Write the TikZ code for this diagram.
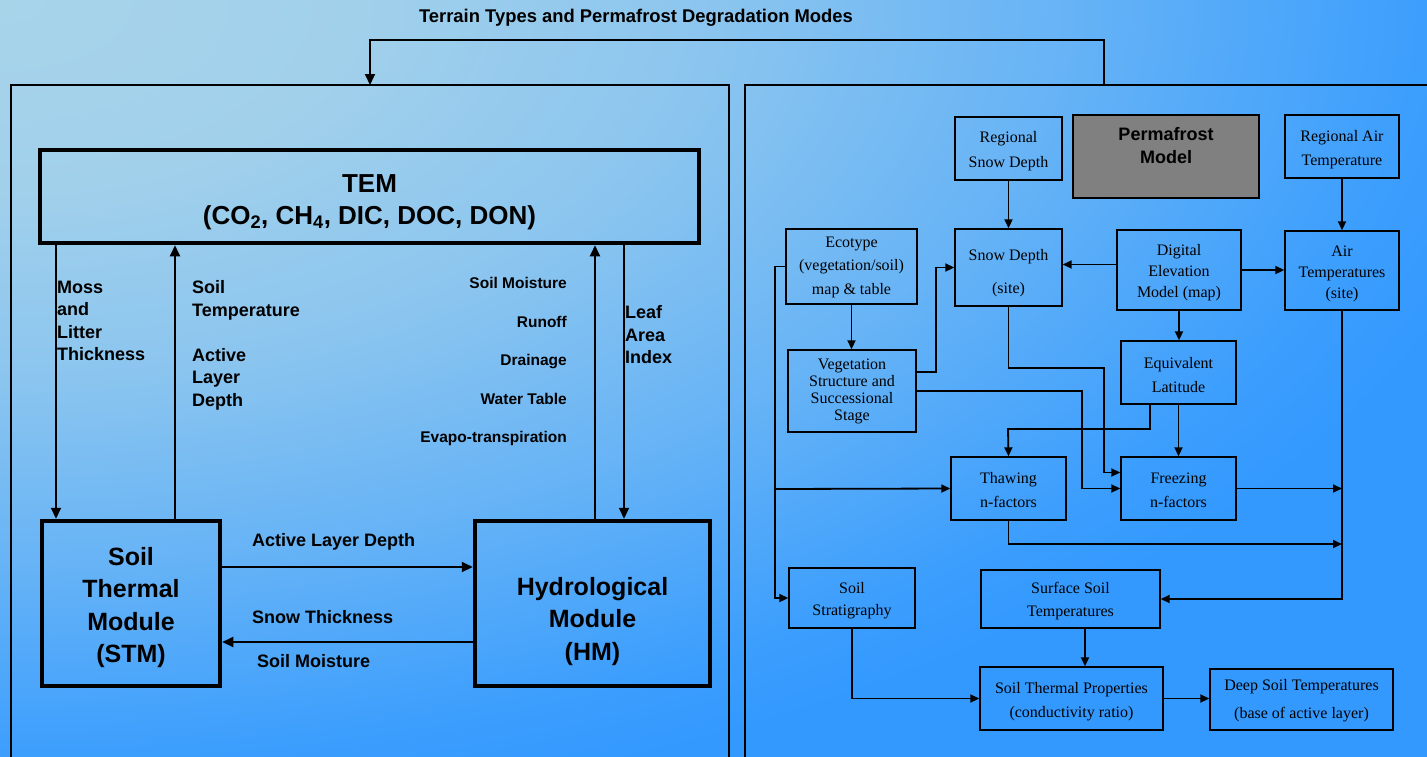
\documentclass[tikz,border=0pt]{standalone}
\usepackage{fontspec}
\setmainfont{Liberation Serif}
\newfontfamily\arialf{Liberation Sans}
\usetikzlibrary{arrows.meta}
\definecolor{bgA}{RGB}{168,212,234}
\definecolor{bgB}{RGB}{161,208,235}
\definecolor{bgC}{RGB}{139,197,239}
\definecolor{bgD}{RGB}{102,179,246}
\definecolor{bgE}{RGB}{60,158,253}
\definecolor{bgF}{RGB}{51,153,255}
\definecolor{pmgray}{RGB}{128,128,128}
\pgfdeclareradialshading{bgshade}{\pgfpoint{0bp}{0bp}}{color(0bp)=(bgA); color(4.17bp)=(bgB); color(8.33bp)=(bgC); color(12.5bp)=(bgD); color(16.67bp)=(bgE); color(18.33bp)=(bgF); color(25bp)=(bgF); color(50bp)=(bgF)}
\newcommand\lift[1]{\rule{0pt}{#1pt}}
\begin{document}
\begin{tikzpicture}[x=1pt,y=-1pt,
  panel/.style={draw,line width=2pt},
  tbox/.style={draw,line width=4.5pt,align=center,inner sep=0pt,font=\arialf\bfseries\fontsize{25}{32.3}\selectfont},
  rbox/.style={draw,line width=1.4pt,align=center,inner sep=0pt},
  arr/.style={line width=2pt,-{Triangle[length=11pt,width=10pt]}},
  rarr/.style={line width=1.8pt,-{Triangle[length=9pt,width=8pt]}},
  lab/.style={inner sep=0pt,font=\arialf\bfseries\fontsize{18}{22.5}\selectfont},
  slab/.style={inner sep=0pt,font=\arialf\bfseries\fontsize{15.5}{38.5}\selectfont}]
\useasboundingbox (0,0) rectangle (1427,756);
\begin{scope}
\clip (0,0) rectangle (1427,756);
\begin{scope}[transform canvas={xscale=1.8876}]
\shade[shading=bgshade] (0,0) circle (1134pt);
\end{scope}
\end{scope}

% title and panels
\node[inner sep=0pt,font=\arialf\bfseries\fontsize{18.4}{22}\selectfont] (title) at (636,18) {Terrain Types and Permafrost Degradation Modes};
\draw[panel] (11,790) -- (11,85) -- (729,85) -- (729,790);
\draw[panel] (745,790) -- (745,85) -- (1440,85);
\coordinate (lp) at (370,85);
\coordinate (rp) at (1104,85);
\draw[arr] (rp) -- (1104,40) -| (lp);

% left panel
\node[tbox, minimum width=659pt, minimum height=93pt, font=\arialf\bfseries\fontsize{26}{32}\selectfont] (tem) at (369.5,196.5) {\lift{29}TEM\\(CO\textsubscript{2}, CH\textsubscript{4}, DIC, DOC, DON)};
\node[tbox, minimum width=178pt, minimum height=165pt] (stm) at (131,603.5) {\lift{26}Soil\\Thermal\\Module\\(STM)};
\node[tbox, minimum width=235pt, minimum height=165pt] (hm) at (592.5,603.5) {\lift{54}Hydrological\\Module\\(HM)};

\coordinate (m1) at (56,400);
\coordinate (m2) at (175,400);
\coordinate (m3) at (595,400);
\coordinate (m4) at (624,400);
\draw[arr] (tem.south -| m1) -- (stm.north -| m1);
\draw[arr] (stm.north -| m2) -- (tem.south -| m2);
\draw[arr] (hm.north -| m3) -- (tem.south -| m3);
\draw[arr] (tem.south -| m4) -- (hm.north -| m4);
\draw[arr] ([yshift=36.5pt]stm.east) -- ([yshift=36.5pt]hm.west);
\draw[arr] ([yshift=-38.5pt]hm.west) -- ([yshift=-38.5pt]stm.east);

\node[lab, anchor=north west, align=left] (moss) at (57,280.5) {Moss\\and\\Litter\\Thickness};
\node[lab, anchor=north west, align=left] (soilt) at (192,280.5) {Soil\\Temperature\\[22.5pt]Active\\Layer\\Depth};
\node[slab, anchor=north east, align=right] (hyd) at (567,277.5) {Soil Moisture\\Runoff\\Drainage\\Water Table\\Evapo-transpiration};
\node[lab, anchor=north west, align=left] (lai) at (625,305.5) {Leaf\\Area\\Index};
\node[lab, anchor=west] (ald) at (252,542) {Active Layer Depth};
\node[lab, anchor=west] (snt) at (252,617) {Snow Thickness};
\node[lab, anchor=west] (smo) at (257,661) {Soil Moisture};

% right panel
\node[rbox, minimum width=107pt, minimum height=63pt, font=\fontsize{16}{25}\selectfont] (rsd) at (1008.5,148.5) {\lift{17}Regional\\Snow Depth};
\node[draw, line width=2.5pt, fill=pmgray, minimum width=186pt, minimum height=83pt, inner sep=0pt, align=center, font=\arialf\bfseries\fontsize{18}{23}\selectfont] (pm) at (1166,156.5) {Permafrost\\Model\\\mbox{}};
\node[rbox, minimum width=114pt, minimum height=63pt, font=\fontsize{16}{24}\selectfont] (rat) at (1342,146.5) {\lift{17}Regional Air\\Temperature};
\node[rbox, minimum width=131pt, minimum height=75pt, font=\fontsize{16}{23.5}\selectfont] (eco) at (851.5,266.5) {\lift{12}Ecotype\\(vegetation/soil)\\map \& table};
\node[rbox, minimum width=107pt, minimum height=77pt, font=\fontsize{16}{33}\selectfont] (sd) at (1008.5,267.5) {\lift{23}Snow Depth\\(site)};
\node[rbox, minimum width=124pt, minimum height=80pt, font=\fontsize{16}{21}\selectfont] (dem) at (1179,270) {\lift{17}Digital\\Elevation\\Model (map)};
\node[rbox, minimum width=114pt, minimum height=79pt, font=\fontsize{16}{21}\selectfont] (at) at (1342,270.5) {\lift{17}Air\\Temperatures\\(site)};
\node[rbox, minimum width=128pt, minimum height=82pt, font=\fontsize{16}{17}\selectfont] (veg) at (852,391) {Vegetation\\Structure and\\Successional\\Stage};
\node[rbox, minimum width=115pt, minimum height=63pt, font=\fontsize{16}{24}\selectfont] (eql) at (1178.5,372.5) {\lift{16}Equivalent\\Latitude};
\node[rbox, minimum width=115pt, minimum height=63pt, font=\fontsize{16}{24}\selectfont] (thaw) at (1008.5,488.5) {\lift{15}Thawing\\n-factors};
\node[rbox, minimum width=115pt, minimum height=63pt, font=\fontsize{16}{24}\selectfont] (frz) at (1178.5,488.5) {\lift{15}Freezing\\n-factors};
\node[rbox, minimum width=126pt, minimum height=60pt, font=\fontsize{16}{22}\selectfont] (strat) at (852,598) {\lift{17}Soil\\Stratigraphy};
\node[rbox, minimum width=179pt, minimum height=58pt, font=\fontsize{16}{23}\selectfont] (sst) at (1070.5,599) {\lift{15}Surface Soil\\Temperatures};
\node[rbox, minimum width=183pt, minimum height=63pt, font=\fontsize{16}{24}\selectfont] (stp) at (1071.5,698.5) {\lift{17}Soil Thermal Properties\\(conductivity ratio)};
\node[rbox, minimum width=183pt, minimum height=61pt, font=\fontsize{16}{28}\selectfont] (dst) at (1301.5,699.5) {\lift{13}Deep Soil Temperatures\\(base of active layer)};

\coordinate (lx) at (775,489);
\coordinate (fx) at (1082,391);
\coordinate (sj) at (1104,368);
\coordinate (ej) at (1008,429);
\coordinate (tj) at (1342,544);

\draw[rarr] (rsd.south) -- (sd.north);
\draw[rarr] (rat.south) -- (at.north);
\draw[rarr] ([yshift=3pt]dem.west |- sd.east) -- ([yshift=3pt]sd.east);
\draw[rarr] (dem.east) -- (dem.east -| at.west);
\draw[rarr] (dem.south) -- (dem.south |- eql.north);
\draw[rarr] (eco.south) -- (eco.south |- veg.north);
\draw[rarr] (eco.west) -| (lx) |- (strat.west);
\draw[rarr] (lx) -- (thaw.west);
\draw[rarr] ([yshift=19pt]veg.east) -- ++(19,0) |- (sd.west);
\draw[rarr] (veg.east) -- (fx) |- (frz.west);
\draw[rarr] (sd.south) |- (sj) |- ([yshift=16pt]frz.west);
\draw[rarr] ([xshift=-28.5pt]eql.south) |- (ej) -- (thaw.north);
\draw[rarr] (eql.south) -- (frz.north);
\draw[rarr] (at.south) |- (sst.east);
\draw[rarr] (frz.east) -- (frz.east -| at.south);
\draw[rarr] (thaw.south) |- (tj);
\draw[rarr] ([xshift=14.5pt]sst.south) -- ([xshift=14.5pt]sst.south |- stp.north);
\draw[rarr] (strat.south) |- (stp.west);
\draw[rarr] (stp.east) -- (stp.east -| dst.west);
\end{tikzpicture}
\end{document}
